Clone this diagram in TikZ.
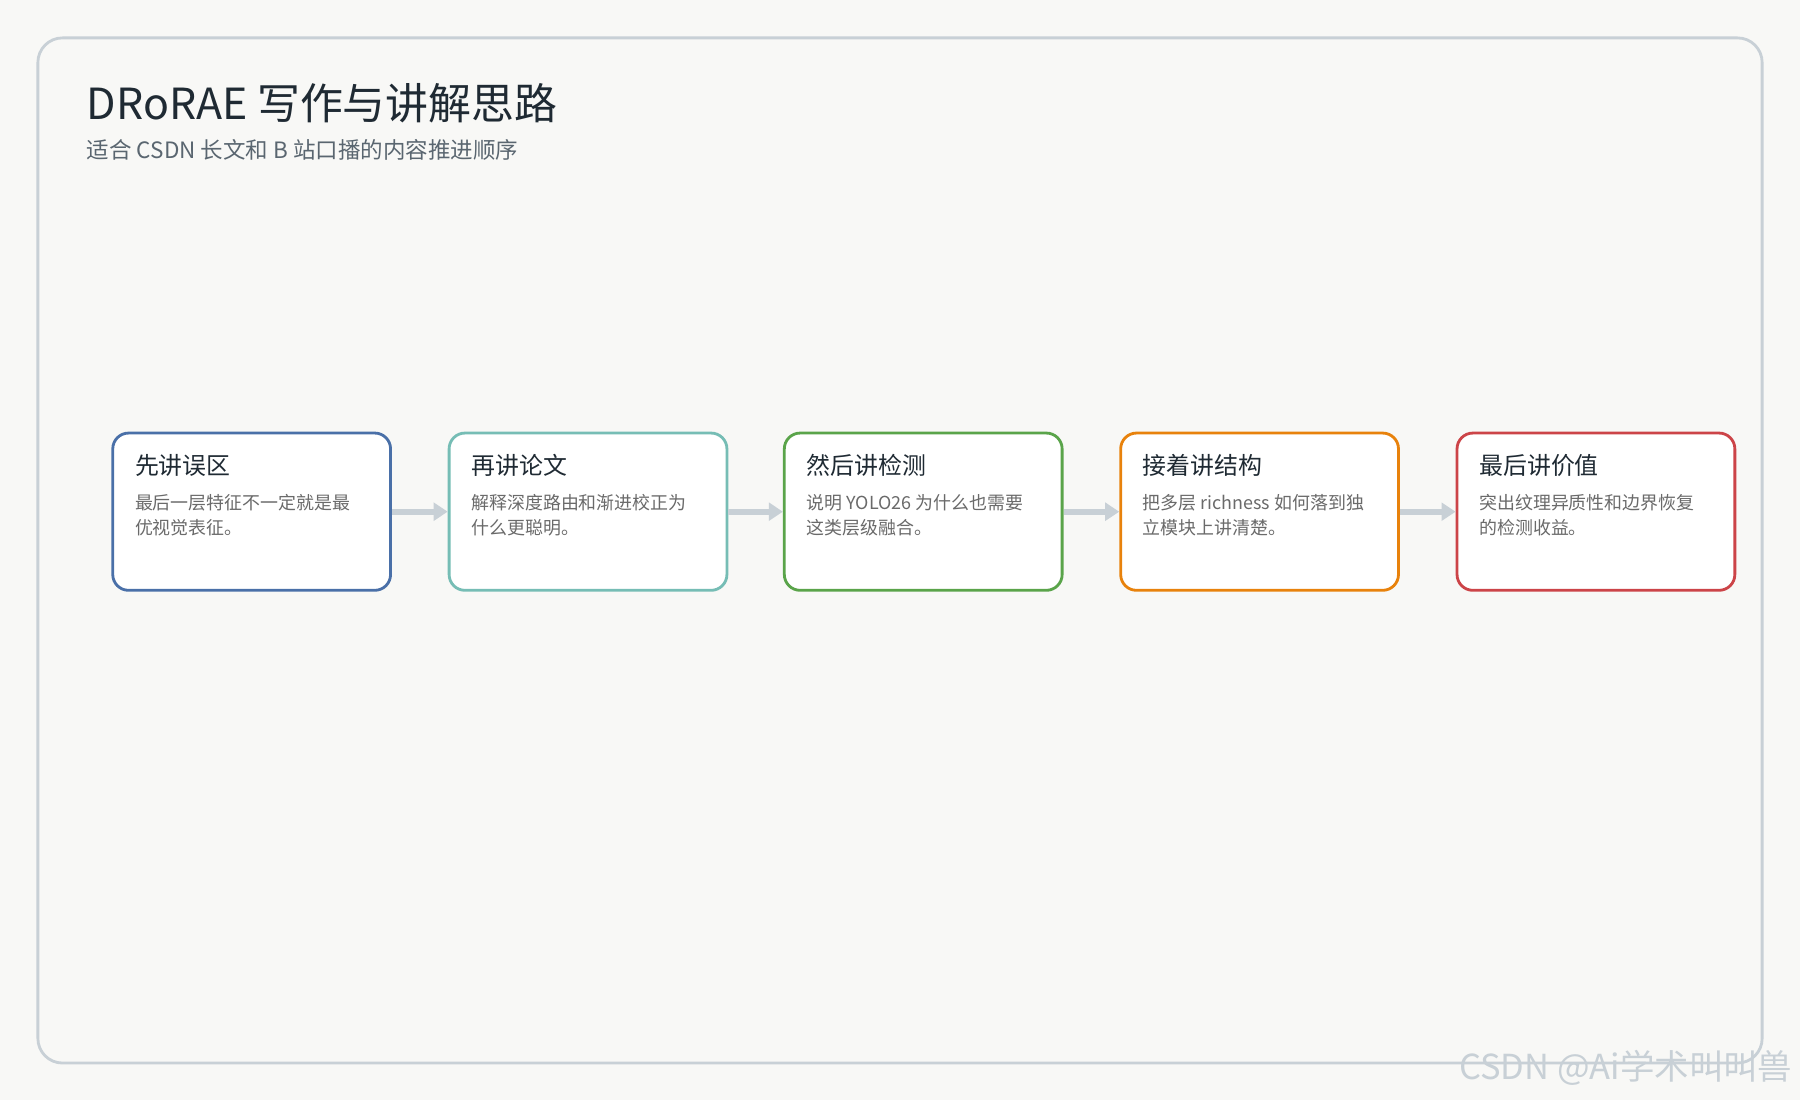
\documentclass[tikz,border=0pt]{standalone}
\usepackage{fontspec}
\setmainfont{Noto Sans CJK SC}
\usetikzlibrary{positioning,arrows.meta}
\definecolor{bgcol}{HTML}{F8F8F6}
\definecolor{framecol}{HTML}{C8D0D6}
\definecolor{titlecol}{HTML}{1F2A33}
\definecolor{subcol}{HTML}{5A6670}
\definecolor{bodycol}{HTML}{6A6A6A}
\definecolor{cblue}{HTML}{4A70A8}
\definecolor{cteal}{HTML}{76BDB5}
\definecolor{cgreen}{HTML}{5AA44A}
\definecolor{corange}{HTML}{E8820C}
\definecolor{cred}{HTML}{CC4448}
\tikzset{
stagebox/.style={rectangle, rounded corners=4.5pt, draw=#1, line width=0.8pt, fill=white,
                 minimum width=242*0.01148cm, minimum height=137*0.01148cm, anchor=north west},
stagetitle/.style={anchor=north west, inner sep=0pt, font=\fontsize{6.8}{8}\selectfont, text=titlecol},
stagetext/.style={anchor=north west, inner sep=0pt, align=left, font=\fontsize{5.1}{7}\selectfont, text=bodycol},
flow/.style={draw=framecol, line width=1.6pt, -{Triangle[width=5pt,length=4pt]}}
}
\begin{document}
\begin{tikzpicture}[x=0.01148cm, y=-0.01148cm]
\useasboundingbox (0,0) rectangle (1568,958);
\fill[bgcol] (0,0) rectangle (1568,958);
\draw[framecol, line width=0.8pt, rounded corners=7pt] (33,33) rectangle (1535,926);

% title
\node[anchor=west, inner sep=0pt, font=\fontsize{12.2}{14}\selectfont, text=titlecol] (title) at (75,90) {DRoRAE 写作与讲解思路};
\node[anchor=west, inner sep=0pt, font=\fontsize{6.4}{8}\selectfont, text=subcol] (subtitle) at (75,131) {适合 CSDN 长文和 B 站口播的内容推进顺序};

% stages
\node[stagebox=cblue] (box1) at (97,376) {};
\node[stagebox=cteal] (box2) at (390,376) {};
\node[stagebox=cgreen] (box3) at (682,376) {};
\node[stagebox=corange] (box4) at (975,376) {};
\node[stagebox=cred] (box5) at (1268,376) {};

\node[stagetitle] (t1) at (117,395) {先讲误区};
\node[stagetext] (d1) at (117,430) {最后一层特征不一定就是最\\优视觉表征。};
\node[stagetitle] (t2) at (410,395) {再讲论文};
\node[stagetext] (d2) at (410,430) {解释深度路由和渐进校正为\\什么更聪明。};
\node[stagetitle] (t3) at (702,395) {然后讲检测};
\node[stagetext] (d3) at (702,430) {说明 YOLO26 为什么也需要\\这类层级融合。};
\node[stagetitle] (t4) at (995,395) {接着讲结构};
\node[stagetext] (d4) at (995,430) {把多层 richness 如何落到独\\立模块上讲清楚。};
\node[stagetitle] (t5) at (1288,395) {最后讲价值};
\node[stagetext] (d5) at (1288,430) {突出纹理异质性和边界恢复\\的检测收益。};

\foreach \a/\b in {1/2,2/3,3/4,4/5}
  \draw[flow] (box\a.east) -- (box\b.west);

% watermark
\node[anchor=east, inner sep=0pt, font=\fontsize{9.8}{10}\selectfont, text=framecol] (mark) at (1562,930) {CSDN @Ai学术叫叫兽};
\end{tikzpicture}
\end{document}
